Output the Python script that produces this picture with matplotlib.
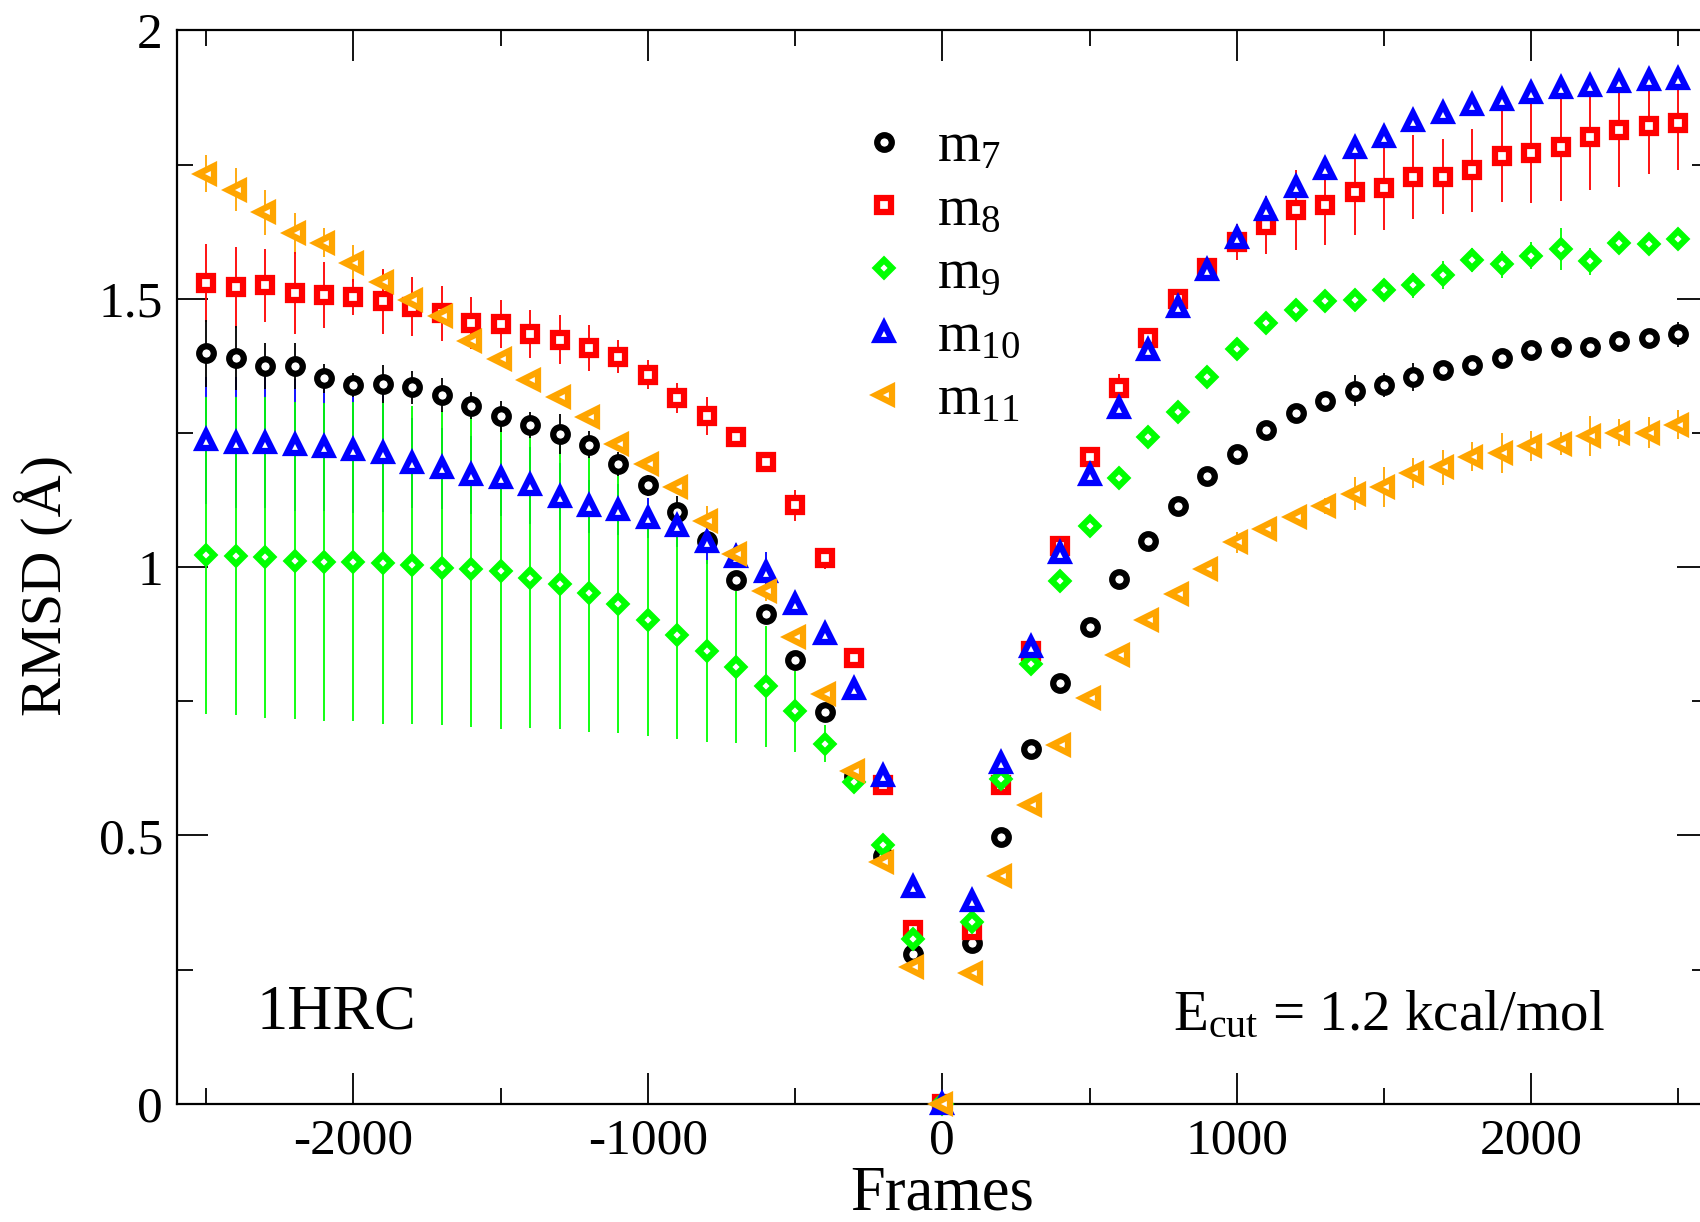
import numpy as np
import matplotlib
matplotlib.use("Agg")
import matplotlib.pyplot as plt

plt.rcParams['font.family'] = ['Liberation Serif', 'DejaVu Serif']
plt.rcParams['mathtext.fontset'] = 'custom'
plt.rcParams['mathtext.rm'] = 'Liberation Serif'
plt.rcParams['mathtext.it'] = 'Liberation Serif:italic'
plt.rcParams['axes.unicode_minus'] = False

frames = np.arange(-2500, 2501, 100)

# RMSD values, left half (-2500..-100), centre (0), right half (100..2500)
m7 = [1.398, 1.390, 1.374, 1.374, 1.352, 1.339, 1.341, 1.335, 1.321, 1.301, 1.281, 1.265, 1.248,
      1.228, 1.192, 1.152, 1.103, 1.048, 0.976, 0.913, 0.826, 0.729, 0.610, 0.461, 0.279,
      0.0,
      0.299, 0.497, 0.661, 0.784, 0.889, 0.978, 1.048, 1.113, 1.170, 1.210, 1.255, 1.287, 1.309,
      1.329, 1.339, 1.354, 1.368, 1.376, 1.390, 1.404, 1.410, 1.410, 1.422, 1.426, 1.434]
m7_err = [0.063, 0.060, 0.043, 0.043, 0.027, 0.023, 0.036, 0.031, 0.032, 0.025, 0.029, 0.024, 0.038,
          0.025, 0.022, 0.020, 0.030, 0.012, 0.015, 0.010, 0.008, 0.008, 0.005, 0.005, 0.005,
          0.0,
          0.005, 0.005, 0.005, 0.005, 0.005, 0.005, 0.008, 0.008, 0.012, 0.010, 0.010, 0.010, 0.012,
          0.028, 0.022, 0.026, 0.015, 0.012, 0.010, 0.010, 0.010, 0.010, 0.010, 0.012, 0.023]

m8 = [1.529, 1.521, 1.525, 1.511, 1.507, 1.503, 1.495, 1.485, 1.473, 1.455, 1.453, 1.434, 1.424,
      1.408, 1.392, 1.358, 1.315, 1.281, 1.242, 1.196, 1.115, 1.016, 0.830, 0.594, 0.323,
      0.0,
      0.323, 0.594, 0.844, 1.040, 1.206, 1.333, 1.426, 1.499, 1.558, 1.606, 1.638, 1.665, 1.675,
      1.699, 1.707, 1.727, 1.727, 1.739, 1.766, 1.772, 1.782, 1.802, 1.814, 1.822, 1.828]
m8_err = [0.073, 0.076, 0.068, 0.076, 0.061, 0.034, 0.061, 0.055, 0.051, 0.048, 0.045, 0.045, 0.045,
          0.043, 0.031, 0.027, 0.028, 0.035, 0.010, 0.010, 0.029, 0.020, 0.005, 0.005, 0.005,
          0.0,
          0.005, 0.005, 0.005, 0.005, 0.005, 0.027, 0.005, 0.008, 0.010, 0.034, 0.054, 0.075, 0.075,
          0.080, 0.079, 0.078, 0.070, 0.077, 0.085, 0.093, 0.099, 0.100, 0.105, 0.089, 0.089]

m9 = [1.022, 1.020, 1.018, 1.012, 1.010, 1.010, 1.008, 1.004, 0.998, 0.996, 0.992, 0.980, 0.968,
      0.952, 0.931, 0.901, 0.873, 0.844, 0.814, 0.778, 0.731, 0.671, 0.600, 0.483, 0.307,
      0.0,
      0.339, 0.606, 0.820, 0.974, 1.077, 1.166, 1.242, 1.289, 1.354, 1.406, 1.455, 1.479, 1.495,
      1.497, 1.517, 1.525, 1.545, 1.572, 1.564, 1.580, 1.592, 1.570, 1.604, 1.602, 1.612]
m9_err = [0.295, 0.296, 0.299, 0.295, 0.296, 0.297, 0.301, 0.297, 0.292, 0.294, 0.293, 0.280, 0.270,
          0.259, 0.241, 0.216, 0.194, 0.170, 0.141, 0.113, 0.075, 0.035, 0.012, 0.005, 0.005,
          0.0,
          0.005, 0.005, 0.005, 0.005, 0.005, 0.005, 0.005, 0.008, 0.008, 0.008, 0.010, 0.010, 0.012,
          0.012, 0.015, 0.023, 0.026, 0.022, 0.025, 0.025, 0.039, 0.025, 0.012, 0.012, 0.012]

m10 = [1.236, 1.232, 1.232, 1.228, 1.224, 1.218, 1.212, 1.194, 1.184, 1.172, 1.166, 1.152, 1.131,
       1.113, 1.107, 1.091, 1.077, 1.046, 1.018, 0.990, 0.931, 0.875, 0.772, 0.610, 0.404,
       0.0,
       0.378, 0.634, 0.851, 1.026, 1.172, 1.297, 1.404, 1.485, 1.554, 1.614, 1.665, 1.709, 1.741,
       1.780, 1.802, 1.832, 1.846, 1.861, 1.871, 1.883, 1.893, 1.897, 1.903, 1.907, 1.909]
m10_err = [0.118, 0.122, 0.122, 0.123, 0.120, 0.118, 0.110, 0.084, 0.076, 0.073, 0.071, 0.071, 0.062,
           0.050, 0.048, 0.037, 0.040, 0.040, 0.015, 0.038, 0.010, 0.008, 0.005, 0.005, 0.005,
           0.0,
           0.005, 0.005, 0.005, 0.005, 0.008, 0.020, 0.008, 0.005, 0.005, 0.005, 0.015, 0.010, 0.010,
           0.010, 0.010, 0.010, 0.020, 0.010, 0.010, 0.010, 0.015, 0.010, 0.010, 0.010, 0.010]

m11 = [1.733, 1.703, 1.661, 1.622, 1.604, 1.566, 1.531, 1.497, 1.467, 1.422, 1.388, 1.349, 1.317,
       1.279, 1.230, 1.192, 1.149, 1.085, 1.024, 0.956, 0.869, 0.764, 0.620, 0.451, 0.255,
       0.0,
       0.244, 0.424, 0.556, 0.669, 0.756, 0.836, 0.901, 0.949, 0.996, 1.046, 1.071, 1.093, 1.113,
       1.137, 1.149, 1.176, 1.186, 1.206, 1.212, 1.226, 1.230, 1.244, 1.250, 1.250, 1.265]
m11_err = [0.035, 0.040, 0.042, 0.038, 0.027, 0.035, 0.022, 0.012, 0.010, 0.010, 0.010, 0.010, 0.010,
           0.012, 0.010, 0.010, 0.012, 0.028, 0.020, 0.020, 0.010, 0.010, 0.005, 0.005, 0.005,
           0.0,
           0.005, 0.005, 0.005, 0.005, 0.005, 0.005, 0.005, 0.005, 0.005, 0.020, 0.010, 0.010, 0.015,
           0.031, 0.037, 0.028, 0.033, 0.027, 0.037, 0.028, 0.022, 0.037, 0.025, 0.029, 0.027]

labels = [r'm$_{7}$', r'm$_{8}$', r'm$_{9}$', r'm$_{10}$', r'm$_{11}$']
colors = ['black', '#ff0000', '#00ff00', '#0000ff', '#ffa500']
markers = ['o', 's', 'D', '^', '<']
msizes = [10.5, 10, 8.5, 11.5, 11.5]

series = [(m7, m7_err), (m8, m8_err), (m9, m9_err), (m10, m10_err), (m11, m11_err)]

fig = plt.figure(figsize=(17, 12.22), dpi=100)
ax = fig.add_axes([0.104, 0.0968, 0.9006, 0.8783])

handles = []
for i, (vals, errs) in enumerate(series):
    ax.errorbar(frames, vals, yerr=errs, fmt='none', ecolor=colors[i], elinewidth=1.3,
                capsize=0, zorder=10 - i, clip_on=False)
    h, = ax.plot(frames, vals, linestyle='none', marker=markers[i], ms=msizes[i],
                 mec=colors[i], mfc='white', mew=4.5, zorder=20 + i, clip_on=False)
    handles.append(h)

ax.set_xlim(-2600, 2600)
ax.set_ylim(0, 2)
ax.set_xticks([-2000, -1000, 0, 1000, 2000])
ax.set_xticks(np.arange(-2500, 2501, 500), minor=True)
ax.set_yticks([0, 0.5, 1, 1.5, 2])
ax.set_yticklabels(['0', '0.5', '1', '1.5', '2'])
ax.set_yticks(np.arange(0, 2.01, 0.25), minor=True)
ax.tick_params(which='both', direction='in', top=True, right=True, width=1.3,
               labelsize=37, pad=10)
ax.tick_params(which='major', length=22)
ax.tick_params(which='minor', length=11.5)
for sp in ax.spines.values():
    sp.set_linewidth(1.6)

ax.set_xlabel('Frames', fontsize=45)
ax.xaxis.set_label_coords(0.5, -0.058)
ax.set_ylabel('RMSD (Å)', fontsize=42)
ax.yaxis.set_label_coords(-0.068, 0.483)

ax.text(0.052, 0.0705, '1HRC', fontsize=45, transform=ax.transAxes, va='baseline')
ax.text(0.651, 0.0686, r'E$_{\mathrm{cut}}$ = 1.2 kcal/mol', fontsize=41,
        transform=ax.transAxes, va='baseline')

ax.legend(handles, labels, loc='upper left', bbox_to_anchor=(0.4437, 0.915), frameon=False,
          fontsize=40, handlelength=1.0, handletextpad=0.45, labelspacing=0.2,
          borderpad=0, borderaxespad=0)

fig.savefig('out.png', dpi=100)
